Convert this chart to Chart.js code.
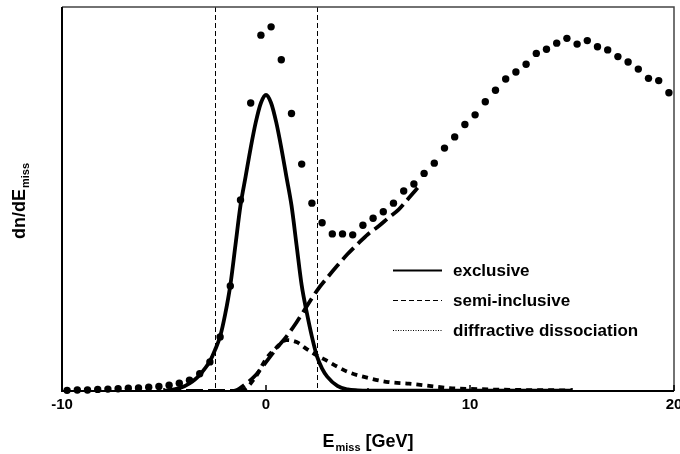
<!DOCTYPE html>
<html>
<head>
<meta charset="utf-8">
<title>Missing energy spectrum</title>
<script src="https://cdn.jsdelivr.net/npm/chart.js@4.4.1/dist/chart.umd.min.js"></script>
<style>
  html, body { margin: 0; padding: 0; background: #fff; overflow: hidden; }
  #wrap { width: 680px; height: 454px; }
</style>
</head>
<body>
<div id="wrap"><canvas id="missChart" width="680" height="454"></canvas></div>
<script>
const FONT = "'Liberation Sans', Arial, Helvetica, sans-serif";

// measured spectrum: bin centres (GeV) and counts (arb. units)
const binCenters = [
  -9.75, -9.25, -8.75, -8.25, -7.75, -7.25, -6.75, -6.25, -5.75, -5.25,
  -4.75, -4.25, -3.75, -3.25, -2.75, -2.25, -1.75, -1.25, -0.75, -0.25,
  0.25, 0.75, 1.25, 1.75, 2.25, 2.75, 3.25, 3.75, 4.25, 4.75,
  5.25, 5.75, 6.25, 6.75, 7.25, 7.75, 8.25, 8.75, 9.25, 9.75,
  10.25, 10.75, 11.25, 11.75, 12.25, 12.75, 13.25, 13.75, 14.25, 14.75,
  15.25, 15.75, 16.25, 16.75, 17.25, 17.75, 18.25, 18.75, 19.25, 19.75
];
const counts = [
  0.2, 0.3, 0.3, 0.5, 0.6, 0.7, 0.85, 0.95, 1.15, 1.4,
  1.8, 2.4, 3.35, 5.4, 9.1, 16.9, 32.8, 59.7, 90.0, 111.2,
  113.8, 103.5, 86.7, 70.9, 58.7, 52.6, 49.1, 49.1, 48.8, 51.8,
  54.0, 56.0, 58.7, 62.5, 64.7, 68.0, 71.2, 75.9, 79.4, 83.3,
  86.3, 90.4, 94.0, 97.5, 99.7, 102.1, 105.5, 106.8, 108.7, 110.2,
  108.4, 109.5, 107.6, 106.6, 104.5, 102.8, 100.6, 97.7, 97.0, 93.2
];

// exclusive contribution
const exclX = [-5, -4.5, -4, -3.75, -3.5, -3.25, -3, -2.75, -2.5, -2.25, -2, -1.75, -1.5, -1.25, -1, -0.75, -0.5, -0.25,
  0, 0.25, 0.5, 0.75, 1, 1.25, 1.5, 1.75, 2, 2.25, 2.5, 2.75, 3, 3.5, 4, 4.5, 5, 15];
const exclY = [0.1, 0.5, 1.5, 2.4, 3.5, 5.0, 7.0, 9.3, 12.8, 17.0, 24.0, 33.0, 45.5, 58.0, 67.0, 76.0, 84.0, 90.0,
  92.5, 90.0, 84.0, 76.0, 67.0, 58.0, 45.5, 33.0, 24.5, 17.0, 10.8, 7.0, 4.5, 1.6, 0.5, 0.2, 0.1, 0.1];

// semi-inclusive contribution
const semiX = [-5, -1.6, -1, -0.5, 0, 0.5, 1, 1.5, 2, 2.5, 3, 3.5, 4, 4.5, 5, 5.5, 6, 6.5, 7, 7.5];
const semiY = [0, 0, 2.2, 5.0, 9.0, 13.2, 17.0, 21.5, 26.5, 31.4, 35.4, 39.2, 42.8, 46.0, 49.0, 51.4, 54.1, 56.7, 60.3, 64.0];

// diffractive dissociation contribution
const diffX = [-5, -1.5, -1, -0.5, 0, 0.5, 1, 1.5, 2, 2.5, 3, 3.5, 4, 5, 6, 7, 8, 9, 10, 12, 15];
const diffY = [0, 0, 0.8, 4.5, 10.0, 13.5, 15.9, 15.3, 13.1, 11.1, 9.4, 7.6, 6.0, 4.1, 2.8, 2.3, 1.6, 0.9, 0.65, 0.35, 0.2];

const xMajorTicks = [-10, 0, 10, 20];
const xMinorTicks = [-5, 5, 15];
const cutEdges = [-2.5, 2.5];

const pts = (xs, ys) => xs.map((x, i) => ({ x: x, y: ys[i] }));

// line styles used in the key (thin samples)
const keyStyles = [
  { width: 2, dash: [] },
  { width: 1, dash: [5, 3] },
  { width: 1, dash: [1, 1.5] }
];

const decor = {
  id: 'decor',
  beforeDatasetsDraw(chart) {
    const { ctx, chartArea: a, scales: { x } } = chart;
    ctx.save();
    ctx.strokeStyle = '#000';
    ctx.lineWidth = 1;
    ctx.setLineDash([5, 3]);
    cutEdges.forEach(v => {
      const px = Math.round(x.getPixelForValue(v)) + 0.5;
      ctx.beginPath();
      ctx.moveTo(px, a.top);
      ctx.lineTo(px, a.bottom);
      ctx.stroke();
    });
    ctx.restore();
  },
  afterDraw(chart) {
    const { ctx, chartArea: a, scales: { x } } = chart;
    ctx.save();

    // frame
    ctx.setLineDash([]);
    ctx.strokeStyle = '#444';
    ctx.lineWidth = 1.5;
    ctx.beginPath();
    ctx.moveTo(a.left, a.top);
    ctx.lineTo(a.right, a.top);
    ctx.lineTo(a.right, a.bottom);
    ctx.stroke();
    ctx.strokeStyle = '#000';
    ctx.lineWidth = 2;
    ctx.beginPath();
    ctx.moveTo(a.left, a.top);
    ctx.lineTo(a.left, a.bottom);
    ctx.lineTo(a.right, a.bottom);
    ctx.stroke();

    // inward ticks on the energy axis
    ctx.lineWidth = 1.5;
    const tick = (v, len) => {
      const px = Math.round(x.getPixelForValue(v));
      ctx.beginPath();
      ctx.moveTo(px, a.bottom);
      ctx.lineTo(px, a.bottom - len);
      ctx.stroke();
    };
    xMajorTicks.forEach(v => tick(v, 6));
    xMinorTicks.forEach(v => tick(v, 3));

    // key
    ctx.fillStyle = '#000';
    ctx.textBaseline = 'middle';
    ctx.textAlign = 'left';
    ctx.font = 'bold 17px ' + FONT;
    chart.data.datasets.slice(1).forEach((ds, i) => {
      const y = 270 + i * 30;
      const st = keyStyles[i];
      ctx.lineWidth = st.width;
      ctx.setLineDash(st.dash);
      ctx.beginPath();
      ctx.moveTo(393, y + 0.5);
      ctx.lineTo(442, y + 0.5);
      ctx.stroke();
      ctx.fillText(ds.label, 453, y + 1);
    });
    ctx.setLineDash([]);

    // x title: E_miss [GeV]
    ctx.textBaseline = 'alphabetic';
    const big = 'bold 18px ' + FONT, small = 'bold 11px ' + FONT;
    ctx.font = big;
    const wE = ctx.measureText('E').width, wU = ctx.measureText(' [GeV]').width;
    ctx.font = small;
    const wS = ctx.measureText('miss').width;
    let tx = (a.left + a.right) / 2 - (wE + wS + wU + 1) / 2;
    const ty = 447;
    ctx.font = big;
    ctx.fillText('E', tx, ty);
    tx += wE + 1;
    ctx.font = small;
    ctx.fillText('miss', tx, ty + 4);
    tx += wS;
    ctx.font = big;
    ctx.fillText(' [GeV]', tx, ty);

    // y title: dn/dE_miss
    ctx.font = big;
    const wD = ctx.measureText('dn/dE').width;
    ctx.translate(25, (a.top + a.bottom) / 2 + 2);
    ctx.rotate(-Math.PI / 2);
    const sx = -(wD + wS + 1) / 2;
    ctx.fillText('dn/dE', sx, 0);
    ctx.font = small;
    ctx.fillText('miss', sx + wD + 1, 4);

    ctx.restore();
  }
};

new Chart(document.getElementById('missChart'), {
  type: 'scatter',
  data: {
    datasets: [
      {
        label: 'data',
        data: pts(binCenters, counts),
        backgroundColor: '#000',
        borderWidth: 0,
        pointRadius: 3.7,
        clip: false
      },
      {
        label: 'exclusive',
        data: pts(exclX, exclY),
        showLine: true,
        borderColor: '#000',
        borderWidth: 3.8,
        pointRadius: 0,
        cubicInterpolationMode: 'monotone'
      },
      {
        label: 'semi-inclusive',
        data: pts(semiX, semiY),
        showLine: true,
        borderColor: '#000',
        borderWidth: 3.8,
        borderDash: [16, 6],
        pointRadius: 0,
        cubicInterpolationMode: 'monotone'
      },
      {
        label: 'diffractive dissociation',
        data: pts(diffX, diffY),
        showLine: true,
        borderColor: '#000',
        borderWidth: 3.8,
        borderDash: [6, 5],
        pointRadius: 0,
        cubicInterpolationMode: 'monotone'
      }
    ]
  },
  options: {
    responsive: false,
    animation: false,
    events: [],
    layout: { padding: { left: 62, top: 7, right: 6, bottom: 43 } },
    plugins: { legend: { display: false }, tooltip: { enabled: false } },
    scales: {
      x: {
        type: 'linear',
        min: -10,
        max: 20,
        afterFit: s => { s.paddingLeft = 0; s.paddingRight = 0; s.height = 20; },
        grid: { display: false, drawTicks: false },
        border: { display: false },
        ticks: {
          stepSize: 10,
          autoSkip: false,
          maxRotation: 0,
          padding: 5,
          color: '#000',
          font: { family: FONT, size: 15, weight: 'bold' }
        }
      },
      y: {
        display: false,
        min: 0,
        max: 120
      }
    }
  },
  plugins: [decor]
});
</script>
</body>
</html>
